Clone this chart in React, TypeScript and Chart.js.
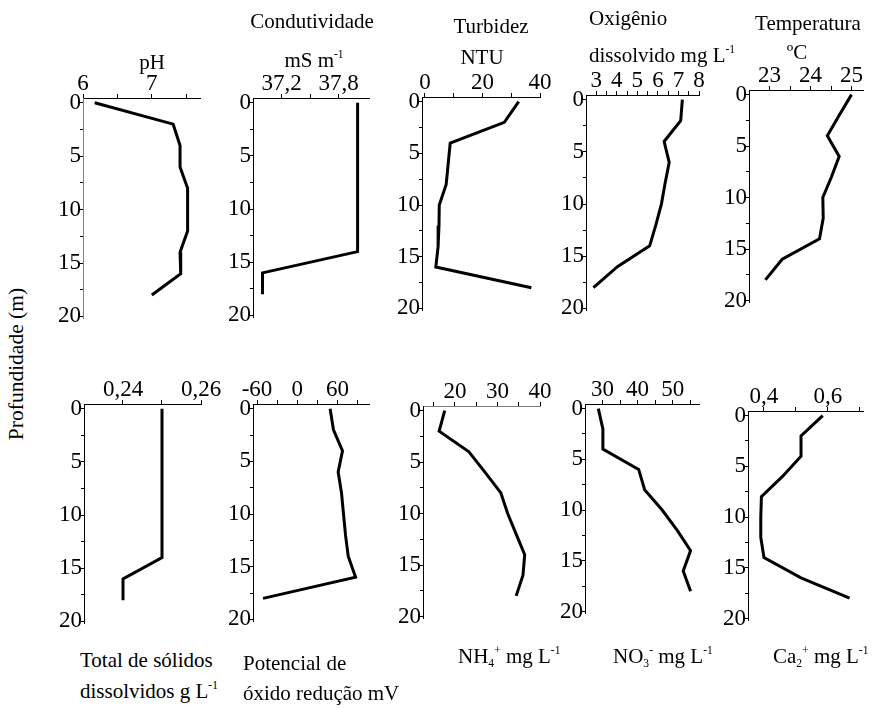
import React, { useEffect, useRef } from 'react';
import { Chart, registerables } from 'chart.js';

Chart.register(...registerables);

// ---- data ----
const depths = [0, 2, 4, 6, 8, 10, 12, 14, 16, 18];
const depthTicks = [0, 2.5, 5, 7.5, 10, 12.5, 15, 17.5, 20];
const depthLabels = [0, 5, 10, 15, 20];

const phValues = [6.17, 7.31, 7.41, 7.41, 7.52, 7.52, 7.52, 7.41, 7.42, 7.0];
const phTicks = [6, 6.5, 7, 7.5];
const phLabels = [6, 7];

const condValues = [38.0, 38.0, 38.0, 38.0, 38.0, 38.0, 38.0, 38.0, 37.0, 37.0];
const condTicks = [37.2, 37.5, 37.8];
const condLabels = [37.2, 37.8];

const turbValues = [32.6, 27.6, 8.8, 8.1, 7.4, 5.0, 4.9, 4.6, 3.8, 37.0];
const turbTicks = [0, 10, 20, 30, 40];
const turbLabels = [0, 20, 40];

const oxyValues = [7.19, 7.11, 6.3, 6.55, 6.35, 6.17, 5.9, 5.6, 4.03, 2.86];
const oxyTicks = [3, 3.5, 4, 4.5, 5, 5.5, 6, 6.5, 7, 7.5, 8];
const oxyLabels = [3, 4, 5, 6, 7, 8];

const tempValues = [25.0, 24.7, 24.41, 24.7, 24.51, 24.3, 24.31, 24.22, 23.31, 22.9];
const tempTicks = [23, 23.5, 24, 24.5, 25];
const tempLabels = [23, 24, 25];

const tdsValues = [0.25, 0.25, 0.25, 0.25, 0.25, 0.25, 0.25, 0.25, 0.24, 0.24];
const tdsTicks = [0.24, 0.25, 0.26];
const tdsLabels = [0.24, 0.26];

const orpValues = [49, 54, 67.5, 61, 66, 69, 72, 76, 87, -51];
const orpTicks = [-60, -30, 0, 30, 60, 90];
const orpLabels = [-60, 0, 60];

const nh4Values = [17.6, 16.3, 23.3, 27.1, 30.8, 32.4, 34.4, 36.4, 36.0, 34.4];
const nh4Ticks = [15, 20, 25, 30, 35, 40];
const nh4Labels = [20, 30, 40];

const no3Values = [28.8, 30.1, 30.1, 40.3, 42.0, 47.0, 51.3, 55.1, 53.0, 55.1];
const no3Ticks = [30, 35, 40, 45, 50, 55];
const no3Labels = [30, 40, 50];

const caValues = [0.584, 0.516, 0.516, 0.458, 0.392, 0.39, 0.39, 0.4, 0.516, 0.668];
const caTicks = [0.4, 0.5, 0.6, 0.7];
const caLabels = [0.4, 0.6];

// ---- layout / style ----
const Y_MIN = -0.45;
const Y_MAX = 20.15;
const FONT = 'Liberation Serif, Tinos, Times New Roman, DejaVu Serif, serif';
const GRAY = '#808080';

type PanelDef = {
  values: number[];
  min: number;
  max: number;
  ticks: number[];
  labels: number[];
  decimals: number;
  L: number;
  R: number;
  y0: number;
  y20: number;
  xBorder: string;
  yBorder: string;
};

const panels: PanelDef[] = [
  { values: phValues, min: 6, max: 7.7, ticks: phTicks, labels: phLabels, decimals: 0, L: 82.5, R: 199, y0: 103, y20: 316.5, xBorder: '#000', yBorder: GRAY },
  { values: condValues, min: 36.9, max: 38.12, ticks: condTicks, labels: condLabels, decimals: 1, L: 252.5, R: 368, y0: 103, y20: 316, xBorder: '#000', yBorder: '#000' },
  { values: turbValues, min: -1, max: 40, ticks: turbTicks, labels: turbLabels, decimals: 0, L: 422, R: 540, y0: 101.5, y20: 308, xBorder: '#000', yBorder: '#000' },
  { values: oxyValues, min: 2.5, max: 8, ticks: oxyTicks, labels: oxyLabels, decimals: 0, L: 586, R: 699, y0: 100, y20: 309, xBorder: '#000', yBorder: '#000' },
  { values: tempValues, min: 22.5, max: 25.28, ticks: tempTicks, labels: tempLabels, decimals: 0, L: 748.5, R: 862.5, y0: 94.5, y20: 300.5, xBorder: '#000', yBorder: '#000' },
  { values: tdsValues, min: 0.23, max: 0.26, ticks: tdsTicks, labels: tdsLabels, decimals: 2, L: 83.5, R: 200, y0: 408.5, y20: 621, xBorder: '#000', yBorder: '#000' },
  { values: orpValues, min: -66, max: 107, ticks: orpTicks, labels: orpLabels, decimals: 0, L: 252.5, R: 368.5, y0: 409, y20: 620, xBorder: '#000', yBorder: '#000' },
  { values: nh4Values, min: 12.5, max: 40, ticks: nh4Ticks, labels: nh4Labels, decimals: 0, L: 423, R: 540, y0: 410.5, y20: 616, xBorder: GRAY, yBorder: '#000' },
  { values: no3Values, min: 25, max: 57.5, ticks: no3Ticks, labels: no3Labels, decimals: 0, L: 585, R: 699, y0: 409, y20: 612, xBorder: '#000', yBorder: '#000' },
  { values: caValues, min: 0.35, max: 0.71, ticks: caTicks, labels: caLabels, decimals: 1, L: 747.5, R: 862, y0: 415.5, y20: 618.5, xBorder: '#000', yBorder: '#000' },
];

const W = 50;
const H = 40;
const PR = 20;
const PB = 16;

function fmt(v: number, decimals: number) {
  return v.toFixed(decimals).replace('.', ',');
}

function Panel({ p }: { p: PanelDef }) {
  const ref = useRef<HTMLCanvasElement>(null);
  const s = (p.y20 - p.y0) / 20;
  const top = p.y0 - (0 - Y_MIN) * s;
  const bottom = p.y20 + (Y_MAX - 20) * s;
  const left = Math.round(p.L - W);
  const topPx = Math.round(top - H);
  const cw = Math.round(p.R - p.L) + W + PR;
  const ch = Math.round(bottom - top) + H + PB;

  useEffect(() => {
    const chart = new Chart(ref.current as HTMLCanvasElement, {
      type: 'line',
      data: {
        datasets: [
          {
            data: depths.map((d, i) => ({ x: p.values[i], y: d })),
            borderColor: '#000',
            borderWidth: 3,
            pointRadius: 0,
            tension: 0,
            fill: false,
          },
        ],
      },
      options: {
        animation: false,
        responsive: false,
        devicePixelRatio: 1,
        layout: { padding: { left: 0, top: 0, right: PR, bottom: PB } },
        plugins: { legend: { display: false }, tooltip: { enabled: false } },
        scales: {
          x: {
            type: 'linear',
            position: 'top',
            min: p.min,
            max: p.max,
            afterBuildTicks: (sc: any) => {
              sc.ticks = p.ticks.map((v) => ({ value: v }));
            },
            afterFit: (sc: any) => {
              sc.height = H;
            },
            ticks: {
              autoSkip: false,
              maxRotation: 0,
              padding: -4,
              color: '#000',
              font: { family: FONT, size: 23 },
              callback: (v: any) => (p.labels.some((l) => Math.abs(l - v) < 1e-9) ? fmt(Number(v), p.decimals) : ''),
            },
            grid: { drawOnChartArea: false, drawTicks: true, tickLength: 4, color: '#000' },
            border: { display: true, color: p.xBorder, width: 1 },
          },
          y: {
            type: 'linear',
            reverse: true,
            min: Y_MIN,
            max: Y_MAX,
            afterBuildTicks: (sc: any) => {
              sc.ticks = depthTicks.map((v) => ({ value: v }));
            },
            afterFit: (sc: any) => {
              sc.width = W;
            },
            ticks: {
              autoSkip: false,
              padding: -1,
              color: '#000',
              font: { family: FONT, size: 23 },
              callback: (v: any) => (depthLabels.includes(Number(v)) ? String(v) : ''),
            },
            grid: { drawOnChartArea: false, drawTicks: true, tickLength: 3, color: '#000' },
            border: { display: true, color: p.yBorder, width: 1 },
          },
        },
      },
    } as any);
    return () => chart.destroy();
  }, []);

  return (
    <canvas
      ref={ref}
      width={cw}
      height={ch}
      style={{ position: 'absolute', left, top: topPx, width: cw, height: ch }}
    />
  );
}

const supStyle: React.CSSProperties = { fontSize: '0.55em', position: 'relative', top: '-0.75em' };
const subStyle: React.CSSProperties = { fontSize: '0.55em', position: 'relative', top: '0.35em' };

function Label({ x, y, children, align = 'center' }: { x: number; y: number; children: React.ReactNode; align?: 'center' | 'left' }) {
  return (
    <div
      style={{
        position: 'absolute',
        left: x,
        top: y,
        transform: align === 'center' ? 'translate(-50%, -50%)' : 'translate(0, -50%)',
        fontFamily: FONT,
        fontSize: 21,
        lineHeight: 1,
        whiteSpace: 'nowrap',
        color: '#000',
      }}
    >
      {children}
    </div>
  );
}

export default function App() {
  return (
    <div
      style={{
        position: 'fixed',
        left: 0,
        top: 0,
        width: 885,
        height: 708,
        background: '#fff',
        overflow: 'hidden',
        fontFamily: FONT,
      }}
    >
      {panels.map((p, i) => (
        <Panel key={i} p={p} />
      ))}

      {/* top row titles */}
      <Label x={152} y={62}>pH</Label>
      <Label x={312} y={21}>Condutividade</Label>
      <Label x={314} y={60}>
        mS m<span style={supStyle}>-1</span>
      </Label>
      <Label x={491} y={26}>Turbidez</Label>
      <Label x={482} y={57}>NTU</Label>
      <Label x={589} y={18} align="left">Oxigênio</Label>
      <Label x={589} y={55} align="left">
        dissolvido mg L<span style={supStyle}>-1</span>
      </Label>
      <Label x={808} y={23}>Temperatura</Label>
      <Label x={797} y={52}>ºC</Label>

      {/* bottom row titles */}
      <Label x={80} y={660} align="left">Total de sólidos</Label>
      <Label x={80} y={691} align="left">
        dissolvidos g L<span style={supStyle}>-1</span>
      </Label>
      <Label x={243} y={663} align="left">Potencial de</Label>
      <Label x={243} y={693} align="left">óxido redução mV</Label>
      <Label x={458} y={656} align="left">
        NH<span style={subStyle}>4</span>
        <span style={supStyle}>+</span> mg L<span style={supStyle}>-1</span>
      </Label>
      <Label x={613} y={656} align="left">
        NO<span style={subStyle}>3</span>
        <span style={supStyle}>-</span> mg L<span style={supStyle}>-1</span>
      </Label>
      <Label x={773} y={656} align="left">
        Ca<span style={subStyle}>2</span>
        <span style={supStyle}>+</span> mg L<span style={supStyle}>-1</span>
      </Label>

      {/* y-axis title */}
      <div
        style={{
          position: 'absolute',
          left: 17,
          top: 364,
          transform: 'translate(-50%, -50%) rotate(-90deg)',
          fontFamily: FONT,
          fontSize: 21.5,
          lineHeight: 1,
          whiteSpace: 'nowrap',
          color: '#000',
        }}
      >
        Profundidade (m)
      </div>
    </div>
  );
}
